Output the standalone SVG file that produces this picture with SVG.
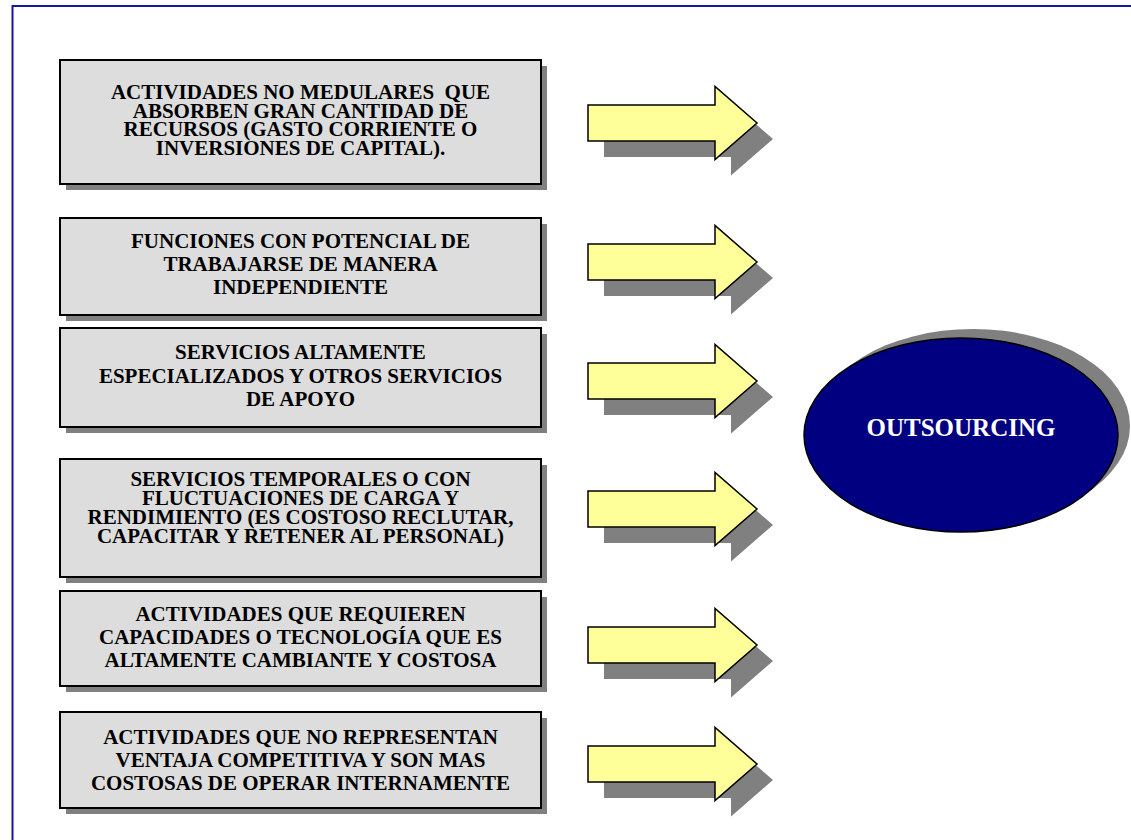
<svg xmlns="http://www.w3.org/2000/svg" xmlns:xlink="http://www.w3.org/1999/xlink" width="1131" height="840" viewBox="0 0 1131 840">
  <style>
    .frame { fill: none; stroke: #16169c; stroke-width: 2; }
    .box { fill: #dddddd; stroke: #000000; stroke-width: 2; }
    .shadow { fill: #808080; stroke: none; }
    .arrow { fill: #ffff99; stroke: #000000; stroke-width: 1.5; stroke-linejoin: miter; }
    .label { font-family: 'Liberation Serif', 'Times New Roman', Times, serif; font-weight: 700; font-size: 21px; fill: #000000; text-anchor: middle; }
    .hub { fill: #000080; stroke: #000000; stroke-width: 1.5; }
    .hub-label { font-family: 'Liberation Serif', 'Times New Roman', Times, serif; font-weight: 700; font-size: 25px; fill: #ffffff; text-anchor: middle; }
  </style>
  <defs>
    <!-- block arrow with its tip at the origin -->
    <path id="blockArrow" d="M-169,-18 H-42 V-36.5 L0,0 L-42,36.5 V18 H-169 Z"/>
  </defs>

  <rect x="0" y="0" width="1131" height="840" fill="#ffffff"/>

  <!-- page frame: top and left rules -->
  <path class="frame" d="M12.5,840 V6 H1131"/>

  <!-- source boxes -->
  <g id="box-actividades-no-medulares">
    <rect class="shadow" x="66" y="66" width="481" height="124"/>
    <rect class="box" x="60" y="60" width="481" height="124"/>
    <text class="label" font-family="Liberation Serif, serif" x="300.5" y="99" xml:space="preserve">ACTIVIDADES NO MEDULARES  QUE</text>
    <text class="label" font-family="Liberation Serif, serif" x="300.5" y="117.5">ABSORBEN GRAN CANTIDAD DE</text>
    <text class="label" font-family="Liberation Serif, serif" x="300.5" y="136">RECURSOS (GASTO CORRIENTE O</text>
    <text class="label" font-family="Liberation Serif, serif" x="300.5" y="154.5">INVERSIONES DE CAPITAL).</text>
  </g>

  <g id="box-funciones">
    <rect class="shadow" x="66" y="224" width="481" height="97"/>
    <rect class="box" x="60" y="218" width="481" height="97"/>
    <text class="label" x="300.5" y="248">FUNCIONES CON POTENCIAL DE</text>
    <text class="label" x="300.5" y="271">TRABAJARSE DE MANERA</text>
    <text class="label" x="300.5" y="294">INDEPENDIENTE</text>
  </g>

  <g id="box-servicios-especializados">
    <rect class="shadow" x="66" y="334" width="481" height="99"/>
    <rect class="box" x="60" y="328" width="481" height="99"/>
    <text class="label" x="300.5" y="359">SERVICIOS ALTAMENTE</text>
    <text class="label" x="300.5" y="383">ESPECIALIZADOS Y OTROS SERVICIOS</text>
    <text class="label" x="300.5" y="406">DE APOYO</text>
  </g>

  <g id="box-servicios-temporales">
    <rect class="shadow" x="66" y="465" width="481" height="118"/>
    <rect class="box" x="60" y="459" width="481" height="118"/>
    <text class="label" x="300.5" y="486">SERVICIOS TEMPORALES O CON</text>
    <text class="label" x="300.5" y="505">FLUCTUACIONES DE CARGA Y</text>
    <text class="label" x="300.5" y="524">RENDIMIENTO (ES COSTOSO RECLUTAR,</text>
    <text class="label" x="300.5" y="543">CAPACITAR Y RETENER AL PERSONAL)</text>
  </g>

  <g id="box-tecnologia">
    <rect class="shadow" x="66" y="597" width="481" height="95"/>
    <rect class="box" x="60" y="591" width="481" height="95"/>
    <text class="label" x="300.5" y="621">ACTIVIDADES QUE REQUIEREN</text>
    <text class="label" x="300.5" y="644">CAPACIDADES O TECNOLOGÍA QUE ES</text>
    <text class="label" x="300.5" y="667">ALTAMENTE CAMBIANTE Y COSTOSA</text>
  </g>

  <g id="box-ventaja-competitiva">
    <rect class="shadow" x="66" y="718" width="481" height="96"/>
    <rect class="box" x="60" y="712" width="481" height="96"/>
    <text class="label" x="300.5" y="744">ACTIVIDADES QUE NO REPRESENTAN</text>
    <text class="label" x="300.5" y="767">VENTAJA COMPETITIVA Y SON MAS</text>
    <text class="label" x="300.5" y="790">COSTOSAS DE OPERAR INTERNAMENTE</text>
  </g>

  <!-- connectors: block arrows toward the hub -->
  <g id="connectors">
    <use xlink:href="#blockArrow" class="shadow" transform="translate(773,139)"/>
    <use xlink:href="#blockArrow" class="arrow" transform="translate(757,123)"/>
    <use xlink:href="#blockArrow" class="shadow" transform="translate(773,278)"/>
    <use xlink:href="#blockArrow" class="arrow" transform="translate(757,262)"/>
    <use xlink:href="#blockArrow" class="shadow" transform="translate(773,397)"/>
    <use xlink:href="#blockArrow" class="arrow" transform="translate(757,381)"/>
    <use xlink:href="#blockArrow" class="shadow" transform="translate(773,525)"/>
    <use xlink:href="#blockArrow" class="arrow" transform="translate(757,509)"/>
    <use xlink:href="#blockArrow" class="shadow" transform="translate(773,661)"/>
    <use xlink:href="#blockArrow" class="arrow" transform="translate(757,645)"/>
    <use xlink:href="#blockArrow" class="shadow" transform="translate(773,780)"/>
    <use xlink:href="#blockArrow" class="arrow" transform="translate(757,764)"/>
  </g>

  <!-- hub -->
  <g id="outsourcing">
    <ellipse class="shadow" cx="973" cy="426" rx="157" ry="97"/>
    <ellipse class="hub" cx="961" cy="435" rx="157" ry="97"/>
    <text class="hub-label" x="961" y="436">OUTSOURCING</text>
  </g>
</svg>
